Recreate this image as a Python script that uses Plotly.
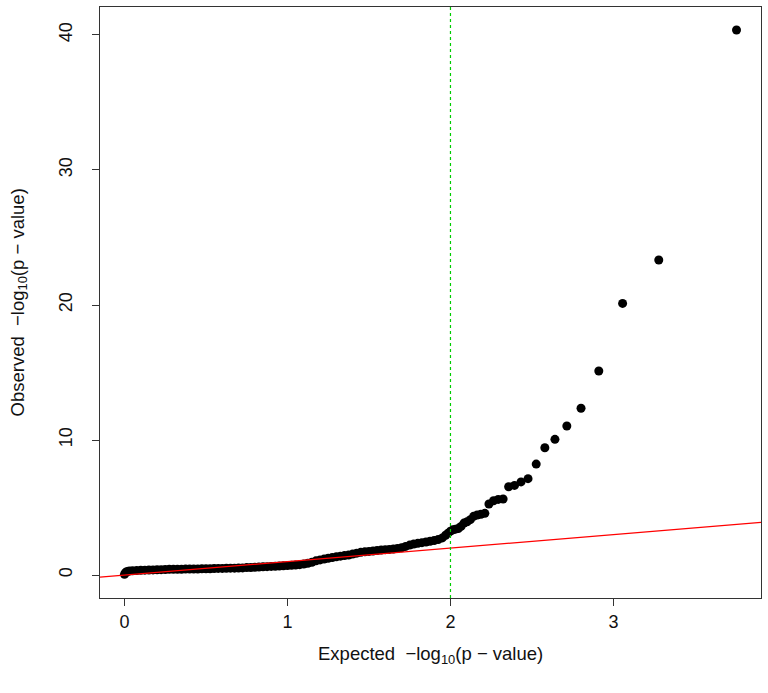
import plotly.graph_objects as go

# Expected -log10(p) (x) and observed -log10(p) (y)
expected = [
    0.000, 0.005, 0.010, 0.020, 0.030, 0.050, 0.075, 0.100, 0.125, 0.150,
    0.175, 0.200, 0.225, 0.250, 0.275, 0.300, 0.325, 0.350, 0.375, 0.400,
    0.425, 0.450, 0.475, 0.500, 0.525, 0.550, 0.575, 0.600, 0.625, 0.650,
    0.675, 0.700, 0.725, 0.750, 0.775, 0.800, 0.825, 0.850, 0.875, 0.900,
    0.925, 0.950, 0.975, 1.000, 1.025, 1.050, 1.075, 1.100, 1.125, 1.150,
    1.175, 1.200, 1.225, 1.250, 1.275, 1.300, 1.325, 1.350, 1.375, 1.400,
    1.425, 1.450, 1.475, 1.500, 1.525, 1.550, 1.575, 1.600, 1.625, 1.650,
    1.675, 1.700, 1.725, 1.750, 1.775, 1.800, 1.825, 1.850, 1.875, 1.900,
    1.925, 1.950, 1.970, 1.985, 2.000, 2.015, 2.031, 2.048, 2.065, 2.083,
    2.102, 2.122, 2.142, 2.164, 2.187, 2.211, 2.236, 2.264, 2.293, 2.323,
    2.357, 2.393, 2.433, 2.476, 2.526, 2.579, 2.641, 2.714, 2.801, 2.910,
    3.056, 3.278, 3.755,
]
observed = [
    0.05, 0.15, 0.22, 0.27, 0.30, 0.32, 0.33, 0.35, 0.36, 0.37,
    0.38, 0.39, 0.40, 0.41, 0.42, 0.42, 0.43, 0.43, 0.44, 0.44,
    0.45, 0.45, 0.46, 0.46, 0.47, 0.48, 0.49, 0.49, 0.50, 0.51,
    0.51, 0.52, 0.53, 0.55, 0.56, 0.58, 0.59, 0.61, 0.62, 0.64,
    0.65, 0.67, 0.68, 0.70, 0.72, 0.74, 0.77, 0.82, 0.87, 0.95,
    1.05, 1.12, 1.18, 1.24, 1.30, 1.35, 1.40, 1.44, 1.48, 1.55,
    1.62, 1.68, 1.72, 1.75, 1.78, 1.82, 1.85, 1.88, 1.90, 1.93,
    1.97, 2.02, 2.12, 2.22, 2.30, 2.35, 2.40, 2.45, 2.50, 2.56,
    2.63, 2.75, 2.95, 3.10, 3.25, 3.35, 3.40, 3.45, 3.60, 3.85,
    3.95, 4.10, 4.35, 4.45, 4.50, 4.57, 5.26, 5.50, 5.60, 5.63,
    6.54, 6.64, 6.90, 7.14, 8.22, 9.43, 10.05, 11.04, 12.35, 15.11,
    20.12, 23.33, 40.37,
]

x_ticks = [0, 1, 2, 3]
y_ticks = [0, 10, 20, 30, 40]
x_range = [-0.1502, 3.9052]
y_range = [-1.70, 42.07]
threshold_x = 2

FONT = "Liberation Sans, Arial, sans-serif"

fig = go.Figure()
fig.add_trace(go.Scatter(
    x=expected, y=observed, mode="markers",
    marker=dict(color="black", size=9, line=dict(width=0)),
    hoverinfo="x+y", showlegend=False,
))
# y = x reference line across the whole plotting region
fig.add_trace(go.Scatter(
    x=x_range, y=x_range, mode="lines",
    line=dict(color="red", width=1.2), showlegend=False, hoverinfo="skip",
))
fig.add_shape(type="line", xref="x", yref="paper", x0=threshold_x, x1=threshold_x,
              y0=0, y1=1, line=dict(color="#00cc00", width=1.2, dash="dot"))

axis_common = dict(
    showgrid=False, zeroline=False, showline=True, mirror=True, automargin=False,
    linecolor="#333333", linewidth=1.3,
    ticks="outside", ticklen=7, tickwidth=1, tickcolor="#333333",
    tickfont=dict(family=FONT, size=18, color="#111111"),
)
fig.update_xaxes(range=x_range, tickvals=x_ticks, ticktext=[str(v) for v in x_ticks],
                 ticklabelstandoff=0, **axis_common)
fig.update_yaxes(range=y_range, tickvals=y_ticks, ticktext=[str(v) for v in y_ticks],
                 tickangle=-90, ticklabelstandoff=13, **axis_common)

fig.add_annotation(text="Expected  \u2212log<sub>10</sub>(p \u2212 value)",
                   xref="paper", yref="paper", x=0.5, y=0, yshift=-57,
                   showarrow=False, xanchor="center", yanchor="middle",
                   font=dict(family=FONT, size=18.5, color="#111111"))
fig.add_annotation(text="Observed  \u2212log<sub>10</sub>(p \u2212 value)",
                   xref="paper", yref="paper", x=0, y=0.5, xshift=-82,
                   showarrow=False, xanchor="center", yanchor="middle", textangle=-90,
                   font=dict(family=FONT, size=18.5, color="#111111"))

fig.update_layout(
    width=768, height=693,
    margin=dict(l=100, r=7, t=7, b=95),
    paper_bgcolor="white", plot_bgcolor="white",
    font=dict(family=FONT, size=18, color="#111111"),
)

fig.write_html("out.html", config={"displayModeBar": False},
               post_script="document.body.style.margin='0';document.body.style.overflow='hidden';")
